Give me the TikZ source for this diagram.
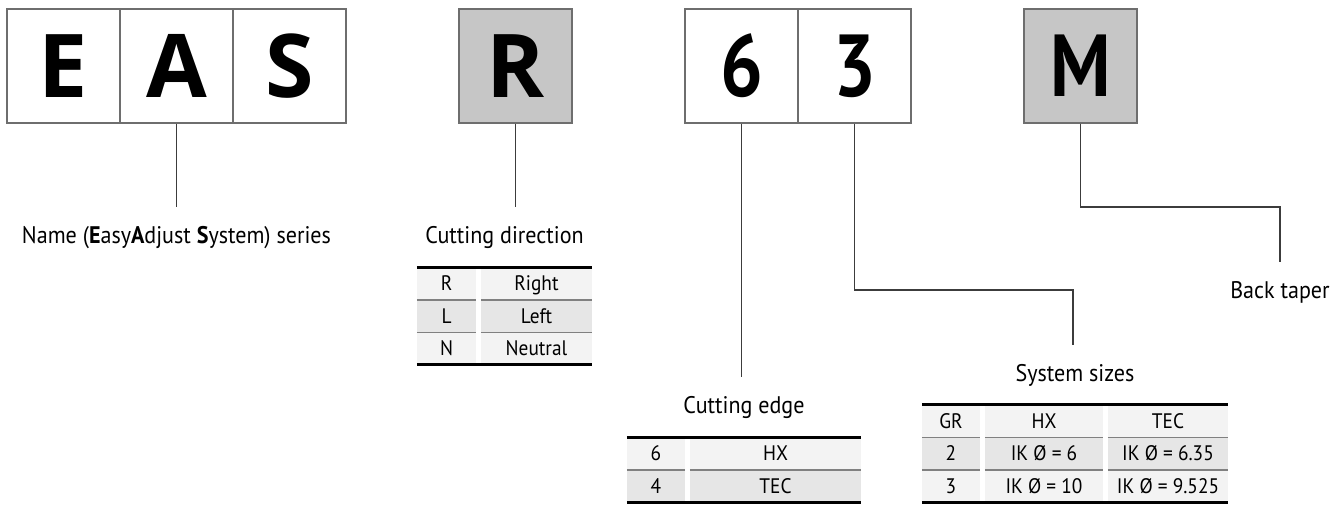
\documentclass[tikz,border=0pt]{standalone}
\usepackage{fontspec}
\setmainfont{PT Sans}[FakeStretch=0.92]
\newfontfamily\boxfont{Open Sans}
\newfontfamily\numfont{PT Sans}[FakeStretch=0.86]
\definecolor{boxline}{HTML}{6E6E6E}
\definecolor{boxgrey}{HTML}{C6C6C6}
\definecolor{rowlight}{HTML}{F3F3F3}
\definecolor{rowdark}{HTML}{E6E6E6}
\definecolor{linkgrey}{HTML}{3C3C3C}
\definecolor{rulegrey}{HTML}{808080}
\begin{document}
\begin{tikzpicture}[x=1pt, y=-1pt,
    letterbox/.style={rectangle, draw=boxline, line width=1.5pt, minimum width=113pt, minimum height=114pt, inner sep=0pt, font=\boxfont\bfseries\fontsize{88}{88}\selectfont},
    numbox/.style={letterbox, font=\numfont\bfseries\fontsize{88}{88}\selectfont},
    partlabel/.style={inner sep=0pt, text height=17pt, text depth=0pt, font=\fontsize{24}{28}\selectfont},
    tcell/.style={rectangle, inner sep=0pt, minimum height=32.33pt, text height=14.5pt, text depth=0pt, font=\fontsize{21}{25}\selectfont},
    link/.style={draw=linkgrey, line width=1.5pt},
    thickrule/.style={draw=black, line width=3pt},
    thinrule/.style={draw=rulegrey, line width=1.5pt},
]
    \useasboundingbox (0,0) rectangle (1344,505);

    % Type code boxes
    \node[letterbox] (cE) at (63.5, 66) {E};
    \node[letterbox] (cA) at (176.5, 66) {A};
    \node[letterbox] (cS) at (289.5, 66) {S};
    \node[letterbox, fill=boxgrey] (cR) at (515.5, 66) {R};
    \node[numbox] (c6) at (741.5, 66) {6};
    \node[numbox] (c3) at (854.5, 66) {3};
    \node[numbox, fill=boxgrey] (cM) at (1080.5, 66) {M};

    % Connectors
    \coordinate (nameEnd) at (176.5, 207);
    \coordinate (dirEnd) at (515.5, 207);
    \coordinate (edgeEnd) at (741.5, 377);
    \coordinate (sizeTurn) at (1073, 290);
    \coordinate (sizeEnd) at (1073, 344.5);
    \coordinate (taperTurn) at (1280, 207);
    \coordinate (taperEnd) at (1280, 262);
    \draw[link] (cA.south) -- (nameEnd);
    \draw[link] (cR.south) -- (dirEnd);
    \draw[link] (c6.south) -- (edgeEnd);
    \draw[link] (c3.south) |- (sizeTurn) -- (sizeEnd);
    \draw[link] (cM.south) |- (taperTurn) -- (taperEnd);

    % Labels
    \node[partlabel] (nameLbl) at (176.5, 235) {Name ({\bfseries E}asy{\bfseries A}djust {\bfseries S}ystem) series};
    \node[partlabel] (dirLbl) at (504.5, 235) {Cutting direction};
    \node[partlabel] (edgeLbl) at (744, 405) {Cutting edge};
    \node[partlabel] (sizeLbl) at (1075, 372.5) {System sizes};
    \node[partlabel] (taperLbl) at (1280, 290) {Back taper};

    % Cutting direction table
    \node[tcell, fill=rowlight, minimum width=59pt] (dirK1) at (446.5, 283.67) {R};
    \node[tcell, fill=rowlight, minimum width=111pt] (dirV1) at (536.5, 283.67) {Right};
    \node[tcell, fill=rowdark, minimum width=59pt] (dirK2) at (446.5, 316) {L};
    \node[tcell, fill=rowdark, minimum width=111pt] (dirV2) at (536.5, 316) {Left};
    \node[tcell, fill=rowlight, minimum width=59pt] (dirK3) at (446.5, 348.33) {N};
    \node[tcell, fill=rowlight, minimum width=111pt] (dirV3) at (536.5, 348.33) {Neutral};
    \foreach \c in {dirK1, dirV1, dirK2, dirV2}
        \draw[thinrule] (\c.south west) -- (\c.south east);
    \draw[thickrule] (dirK1.north west) -- (dirV1.north east);
    \draw[thickrule] (dirK3.south west) -- (dirV3.south east);

    % Cutting edge table
    \node[tcell, fill=rowlight, minimum width=58pt] (edgeK1) at (656, 453.5) {6};
    \node[tcell, fill=rowlight, minimum width=171pt] (edgeV1) at (775.5, 453.5) {HX};
    \node[tcell, fill=rowdark, minimum width=58pt] (edgeK2) at (656, 485.83) {4};
    \node[tcell, fill=rowdark, minimum width=171pt] (edgeV2) at (775.5, 485.83) {TEC};
    \foreach \c in {edgeK1, edgeV1}
        \draw[thinrule] (\c.south west) -- (\c.south east);
    \draw[thickrule] (edgeK1.north west) -- (edgeV1.north east);
    \draw[thickrule] (edgeK2.south west) -- (edgeV2.south east);

    % System sizes table
    \node[tcell, fill=rowlight, minimum width=58pt] (sizeG1) at (951, 421.17) {GR};
    \node[tcell, fill=rowlight, minimum width=118pt] (sizeH1) at (1044, 421.17) {HX};
    \node[tcell, fill=rowlight, minimum width=120pt] (sizeT1) at (1168, 421.17) {TEC};
    \node[tcell, fill=rowdark, minimum width=58pt] (sizeG2) at (951, 453.5) {2};
    \node[tcell, fill=rowdark, minimum width=118pt] (sizeH2) at (1044, 453.5) {IK Ø = 6};
    \node[tcell, fill=rowdark, minimum width=120pt] (sizeT2) at (1168, 453.5) {IK Ø = 6.35};
    \node[tcell, fill=rowlight, minimum width=58pt] (sizeG3) at (951, 485.83) {3};
    \node[tcell, fill=rowlight, minimum width=118pt] (sizeH3) at (1044, 485.83) {IK Ø = 10};
    \node[tcell, fill=rowlight, minimum width=120pt] (sizeT3) at (1168, 485.83) {IK Ø = 9.525};
    \foreach \c in {sizeG1, sizeH1, sizeT1, sizeG2, sizeH2, sizeT2}
        \draw[thinrule] (\c.south west) -- (\c.south east);
    \draw[thickrule] (sizeG1.north west) -- (sizeT1.north east);
    \draw[thickrule] (sizeG3.south west) -- (sizeT3.south east);
\end{tikzpicture}
\end{document}
